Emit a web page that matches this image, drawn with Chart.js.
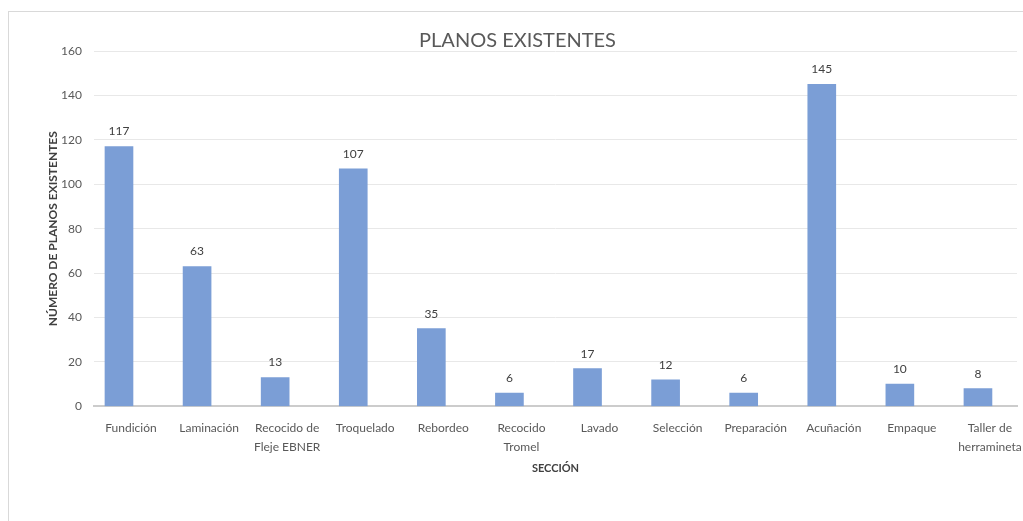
<!DOCTYPE html>
<html>
<head>
<meta charset="utf-8">
<script src="https://cdn.jsdelivr.net/npm/chart.js@4"></script>
<style>
	body { margin: 0; background: #fff; overflow: hidden; }
	#marco { position: absolute; left: 8px; top: 11px; width: 1100px; height: 600px; border: 1px solid #d9d9d9; }
	#grafico { position: absolute; left: 0; top: 0; }
</style>
</head>
<body>
<div id="marco"></div>
<canvas id="grafico" width="1023" height="521"></canvas>
<script>
// Datos del gráfico
const secciones = [
	"Fundición",
	"Laminación",
	["Recocido de", "Fleje EBNER"],
	"Troquelado",
	"Rebordeo",
	["Recocido", "Tromel"],
	"Lavado",
	"Selección",
	"Preparación",
	"Acuñación",
	"Empaque",
	["Taller de", "herramineta"],
];
const planos = [117, 63, 13, 107, 35, 6, 17, 12, 6, 145, 10, 8];
const ticksY = [0, 20, 40, 60, 80, 100, 120, 140, 160];

const fuente = "Lato, 'Open Sans', sans-serif";

// Etiquetas de valor encima de cada barra
const etiquetas = {
	id: "etiquetas",
	afterDatasetsDraw(chart) {
		const ctx = chart.ctx;
		const meta = chart.getDatasetMeta(0);
		ctx.save();
		ctx.font = "12px " + fuente;
		ctx.fillStyle = "#404040";
		ctx.textAlign = "center";
		ctx.textBaseline = "bottom";
		meta.data.forEach((barra, i) => {
			ctx.fillText(planos[i], barra.x, barra.y - 9);
		});
		ctx.restore();
	},
};

let barras = new Chart(document.getElementById("grafico"), {
	type: "bar",
	data: {
		datasets: [
			{
				data: planos.map((v, i) => ({ x: i, y: v })),
				backgroundColor: "rgb(123,158,214)",
				barThickness: 28,
			},
		],
	},
	options: {
		responsive: false,
		animation: false,
		layout: {
			padding: { left: 18, right: 6, top: 31, bottom: 46 },
		},
		plugins: {
			legend: { display: false },
			tooltip: { enabled: false },
			title: {
				display: true,
				text: "PLANOS EXISTENTES",
				color: "#595959",
				font: { family: fuente, size: 20, weight: "normal", lineHeight: 1 },
				padding: { top: 0, bottom: 0 },
			},
		},
		scales: {
			x: {
				type: "linear",
				offset: false,
				min: -0.32,
				max: 11.5,
				afterBuildTicks: (s) => {
					s.ticks = secciones.map((c, i) => ({ value: i }));
				},
				ticks: {
					autoSkip: false,
					maxRotation: 0,
					padding: 12,
					labelOffset: 12,
					color: "#595959",
					font: { family: fuente, size: 12, lineHeight: 1.6 },
					callback: (v) => secciones[v],
				},
				grid: { display: false, drawTicks: false },
				border: { display: true, color: "#cccccc", width: 2 },
				title: {
					display: true,
					text: "SECCIÓN",
					color: "#404040",
					font: { family: fuente, size: 11, weight: "bold" },
					padding: { top: -7, bottom: 0 },
				},
			},
			y: {
				min: 0,
				max: 160,
				afterBuildTicks: (s) => {
					s.ticks = ticksY.map((v) => ({ value: v }));
				},
				afterFit: (s) => {
					s.width = 76;
				},
				ticks: {
					padding: 12,
					color: "#595959",
					font: { family: fuente, size: 12 },
				},
				grid: { color: "#e8e8e8", drawTicks: false },
				border: { display: false },
				title: {
					display: true,
					text: "NÚMERO DE PLANOS EXISTENTES",
					color: "#404040",
					font: { family: fuente, size: 12, weight: "bold" },
					padding: { top: 28, bottom: 0 },
				},
			},
		},
	},
	plugins: [etiquetas],
});
</script>
</body>
</html>
